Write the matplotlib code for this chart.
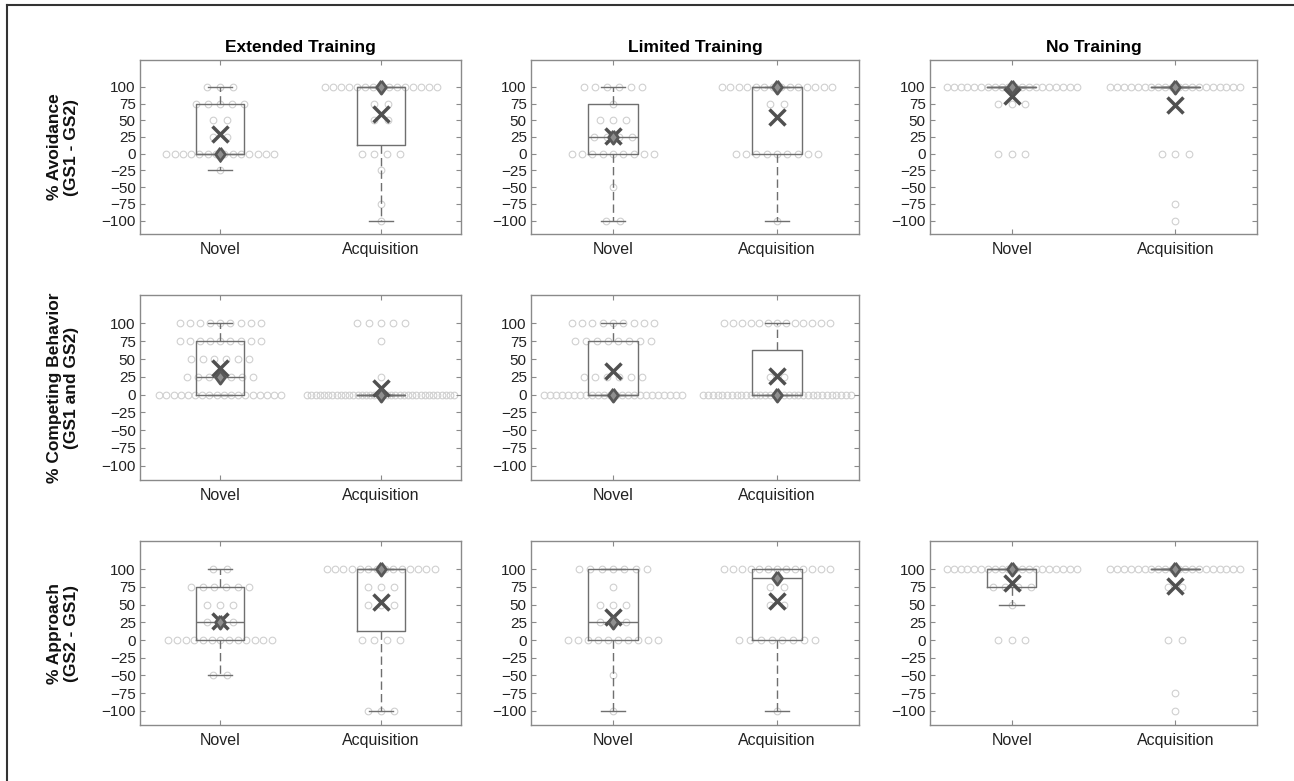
import numpy as np
import matplotlib
matplotlib.use("Agg")
import matplotlib.pyplot as plt
from matplotlib.lines import Line2D

plt.rcParams['font.family'] = ['Liberation Sans', 'DejaVu Sans']

levels = [100, 75, 50, 25, 0, -25, -50, -75, -100]
phases = ["Novel", "Acquisition"]
trainings = ["Extended Training", "Limited Training", "No Training"]
measures = ["% Avoidance\n(GS1 - GS2)", "% Competing Behavior\n(GS1 and GS2)", "% Approach\n(GS2 - GS1)"]

# number of subjects at each level (100 ... -100)
avoid_ext_novel = [3, 5, 2, 2, 14, 1, 0, 0, 0]
avoid_ext_acq = [15, 2, 2, 0, 4, 1, 0, 1, 1]
avoid_lim_novel = [6, 1, 3, 4, 9, 0, 1, 0, 2]
avoid_lim_acq = [14, 2, 0, 0, 9, 0, 0, 0, 1]
avoid_no_novel = [20, 3, 0, 0, 3, 0, 0, 0, 0]
avoid_no_acq = [20, 0, 0, 0, 3, 0, 0, 1, 1]
comp_ext_novel = [9, 9, 6, 7, 18, 0, 0, 0, 0]
comp_ext_acq = [5, 1, 0, 1, 36, 0, 0, 0, 0]
comp_lim_novel = [9, 8, 0, 6, 24, 0, 0, 0, 0]
comp_lim_acq = [13, 0, 0, 2, 32, 0, 0, 0, 0]
appr_ext_novel = [2, 6, 3, 3, 13, 0, 2, 0, 0]
appr_ext_acq = [14, 3, 3, 0, 4, 0, 0, 0, 3]
appr_lim_novel = [7, 1, 3, 3, 10, 0, 1, 0, 1]
appr_lim_acq = [13, 2, 2, 0, 8, 0, 0, 0, 1]
appr_no_novel = [20, 4, 1, 0, 3, 0, 0, 0, 0]
appr_no_acq = [20, 2, 0, 0, 2, 0, 0, 1, 1]

# box stats: (whisker low, q1, median, q3, whisker high, mean)
avoid_ext_box = [(-25, 0, 0, 75, 100, 30), (-100, 12.5, 100, 100, 100, 60)]
avoid_lim_box = [(-100, 0, 25, 75, 100, 26), (-100, 0, 100, 100, 100, 55)]
avoid_no_box = [(100, 100, 100, 100, 100, 86), (100, 100, 100, 100, 100, 73)]
comp_ext_box = [(0, 0, 25, 75, 100, 37), (0, 0, 0, 0, 0, 9)]
comp_lim_box = [(0, 0, 0, 75, 100, 33), (0, 0, 0, 62.5, 100, 26)]
appr_ext_box = [(-50, 0, 25, 75, 100, 27), (-100, 12.5, 100, 100, 100, 54)]
appr_lim_box = [(-100, 0, 25, 100, 100, 33), (-100, 0, 87.5, 100, 100, 55)]
appr_no_box = [(50, 75, 100, 100, 100, 81), (100, 100, 100, 100, 100, 76)]

panels = {
    (0, 0): ([avoid_ext_novel, avoid_ext_acq], avoid_ext_box),
    (0, 1): ([avoid_lim_novel, avoid_lim_acq], avoid_lim_box),
    (0, 2): ([avoid_no_novel, avoid_no_acq], avoid_no_box),
    (1, 0): ([comp_ext_novel, comp_ext_acq], comp_ext_box),
    (1, 1): ([comp_lim_novel, comp_lim_acq], comp_lim_box),
    (2, 0): ([appr_ext_novel, appr_ext_acq], appr_ext_box),
    (2, 1): ([appr_lim_novel, appr_lim_acq], appr_lim_box),
    (2, 2): ([appr_no_novel, appr_no_acq], appr_no_box),
}

W, H = 1294, 781
col_left = [140, 531, 930]
col_width = [321, 328, 327]
row_top = [60, 295, 541]
row_height = [174, 185, 184]

edge = '#8a8a8a'
box_col = '#6f6f6f'
dot_col = '#d0d0d0'
diamond = [(0, 1), (0.74, 0), (0, -1), (-0.74, 0), (0, 1)]


def spread(n):
    # row of dots gets tighter as it gets longer
    if n <= 1:
        return np.zeros(n)
    span = 0.95 * (1 - np.exp(-(n - 1) * 0.09 / 0.95))
    return np.linspace(-span / 2, span / 2, n)


fig = plt.figure(figsize=(W / 100, H / 100), dpi=100)

for (r, c), (counts, boxes) in panels.items():
    ax = fig.add_axes([col_left[c] / W, 1 - (row_top[r] + row_height[r]) / H,
                       col_width[c] / W, row_height[r] / H])

    stats = []
    for i, (cnt, b) in enumerate(zip(counts, boxes)):
        pos = i + 1
        for lev, n in zip(levels, cnt):
            if n == 0:
                continue
            ax.plot(pos + spread(n), [lev] * n, 'o', mfc='none', mec=dot_col,
                    ms=4.8, mew=0.8, zorder=1)
        lo, q1, med, q3, hi, mean = b
        stats.append({'whislo': lo, 'q1': q1, 'med': med, 'q3': q3,
                      'whishi': hi, 'fliers': [], 'mean': mean})

    ax.bxp(stats, positions=[1, 2], widths=0.3, capwidths=0.15,
           showfliers=False, manage_ticks=False, patch_artist=False,
           boxprops=dict(color=box_col, lw=1.0),
           whiskerprops=dict(color=box_col, lw=1.0, linestyle=(0, (6, 3))),
           capprops=dict(color=box_col, lw=1.0),
           medianprops=dict(color=box_col, lw=1.0), zorder=2)

    for i, b in enumerate(boxes):
        ax.plot(i + 1, b[5], 'x', color='#505050', ms=12, mew=2.5, zorder=3)
        ax.plot(i + 1, b[2], marker=diamond, mfc='#8f8f8f', mec='#585858',
                ms=9.5, mew=2, zorder=4)

    ax.set_xlim(0.5, 2.5)
    ax.set_ylim(-120, 140)
    ax.set_yticks(range(-100, 101, 25))
    ax.set_xticks([1, 2])
    ax.set_xticklabels(phases)
    ax.tick_params(direction='in', top=True, right=True, length=3.5,
                   color=edge, labelcolor='#222222')
    ax.tick_params(axis='x', labelsize=11.5, pad=6)
    ax.tick_params(axis='y', labelsize=11, pad=3)
    for s in ax.spines.values():
        s.set_color(edge)
        s.set_linewidth(1.0)

    if r == 0:
        ax.set_title(trainings[c], fontweight='bold', fontsize=12.5, pad=6)

for r in range(3):
    fig.text(63 / W, 1 - (row_top[r] + row_height[r] / 2) / H, measures[r],
             rotation=90, ha='center', va='center', multialignment='center',
             fontweight='bold', fontsize=12.5, color='#111111', linespacing=1.15)

# frame lines seen on the left and top of the original
fig.add_artist(Line2D([7 / W, 7 / W], [0, 1 - 5 / H], transform=fig.transFigure,
                      color='#333333', lw=1.5))
fig.add_artist(Line2D([7 / W, 1], [1 - 5 / H, 1 - 5 / H], transform=fig.transFigure,
                      color='#333333', lw=1.5))

fig.savefig('out.png', dpi=100)
